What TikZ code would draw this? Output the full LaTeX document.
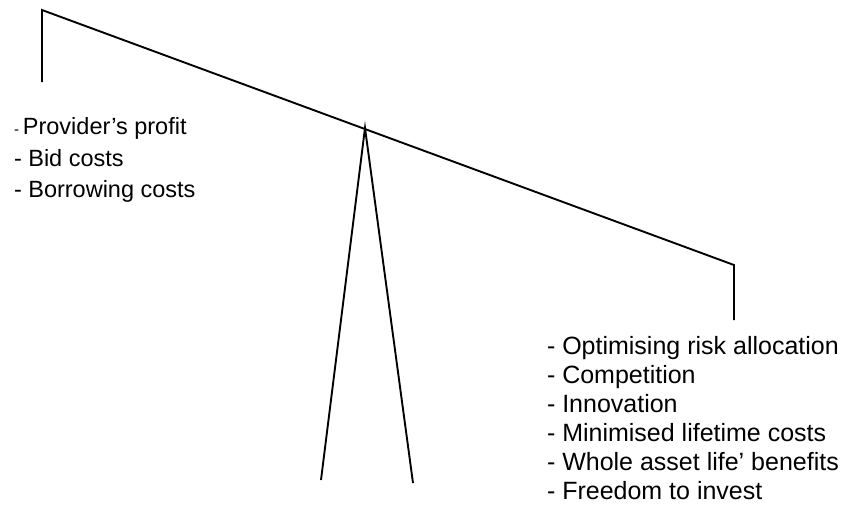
\documentclass[tikz,border=0pt]{standalone}
\usepackage{fontspec}
\setmainfont{Liberation Sans}
\begin{document}
\begin{tikzpicture}[x=1pt,y=-1pt,
  bar/.style={line width=1.9pt, line cap=butt, line join=miter},
  item/.style={anchor=base west, inner sep=0pt, outer sep=0pt, font=\fontsize{25}{29}\selectfont},
  litem/.style={item, font=\fontsize{23.5}{27}\selectfont}]
\useasboundingbox (0,0) rectangle (849,512);
\coordinate (bl) at (42,10);
\coordinate (br) at (734,265);
\coordinate (hl) at (42,82);
\coordinate (hr) at (734,320);
\coordinate (apex) at (365,128);
\coordinate (fl) at (321,480);
\coordinate (fr) at (413,483);
\draw[bar] (hl) -- (bl) -- (br) -- (hr);
\draw[bar] (fl) -- (apex) -- (fr);
% left texts
\node[litem] (l1) at (14,134) {{\fontsize{15}{17}\selectfont -}\,Provider’s profit};
\node[litem] (l2) at (14,166) {- Bid costs};
\node[litem] (l3) at (14,197) {- Borrowing costs};
% right texts
\node[item] (r1) at (547,354) {- Optimising risk allocation};
\node[item] (r2) at (547,383) {- Competition};
\node[item] (r3) at (547,412) {- Innovation};
\node[item] (r4) at (547,441) {- Minimised lifetime costs};
\node[item] (r5) at (547,470) {- Whole asset life’ benefits};
\node[item] (r6) at (547,499) {- Freedom to invest};
\end{tikzpicture}
\end{document}
